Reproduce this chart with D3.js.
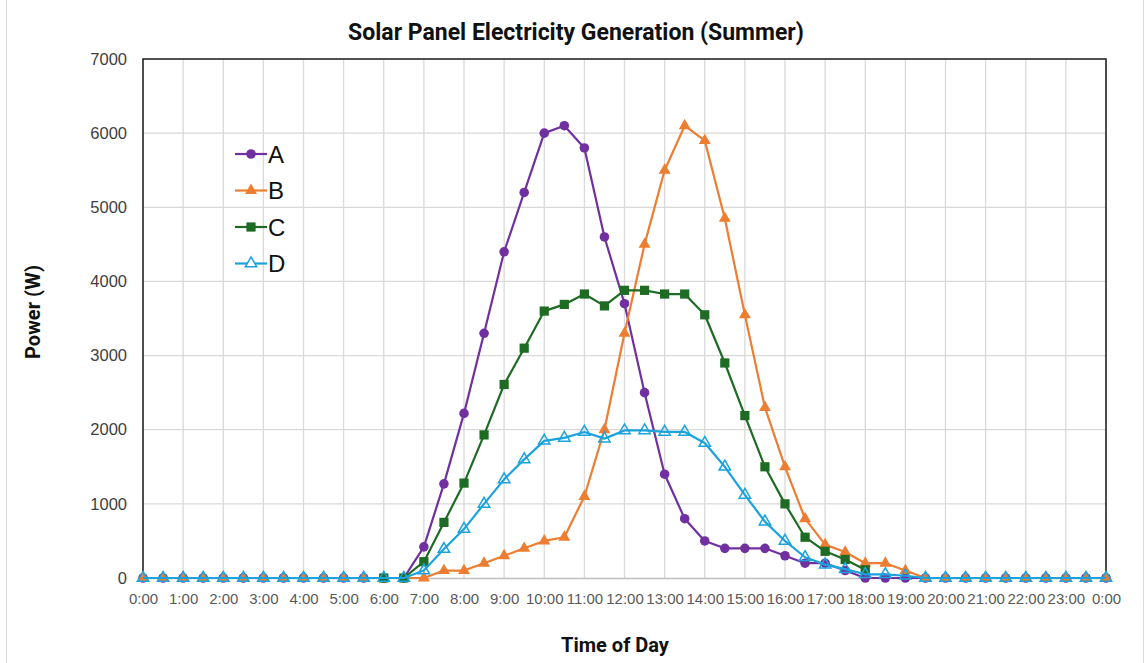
<!DOCTYPE html>
<html>
<head>
<meta charset="utf-8">
<script src="https://cdn.jsdelivr.net/npm/d3@7"></script>
<style>
  html, body { margin: 0; padding: 0; background: #fff; }
  svg { display: block; }
</style>
</head>
<body>
<svg id="chart" width="1145" height="663"></svg>
<script>
// ---- data ----
const times = [];
for (let i = 0; i <= 48; i++) {
  const h = Math.floor(i / 2) % 24;
  times.push(h + ":" + (i % 2 ? "30" : "00") + (i === 48 ? " " : ""));
}
const seriesNames = ["A", "B", "C", "D"];
const valuesA = [0,0,0,0,0,0,0,0,0,0,0,0,0,0,420,1270,2220,3300,4400,5200,6000,6100,5800,4600,3700,2500,1400,800,500,400,400,400,300,200,200,100,0,0,0,0,0,0,0,0,0,0,0,0,0];
const valuesB = [0,0,0,0,0,0,0,0,0,0,0,0,0,0,0,100,100,200,300,400,500,550,1100,2000,3300,4500,5500,6100,5900,4850,3550,2300,1500,800,450,350,200,200,100,0,0,0,0,0,0,0,0,0,0];
const valuesC = [null,null,null,null,null,null,null,null,null,null,null,null,0,0,220,750,1280,1930,2610,3100,3600,3690,3830,3670,3880,3880,3830,3830,3550,2900,2190,1500,1000,550,360,250,110,null,null,null,null,null,null,null,null,null,null,null,null];
const valuesD = [0,0,0,0,0,0,0,0,0,0,0,0,0,0,100,390,660,1000,1330,1600,1850,1890,1970,1880,1990,1990,1970,1970,1820,1500,1120,760,500,280,180,120,50,50,30,0,0,0,0,0,0,0,0,0,0];
const yTicks = [0,1000,2000,3000,4000,5000,6000,7000];
const hourLabels = times.filter((t, i) => i % 2 === 0);

const colors = { A: "#7030A0", B: "#ED7D31", C: "#1E6B24", D: "#1AA3DC" };
const symbols = { A: d3.symbolCircle, B: d3.symbolTriangle, C: d3.symbolSquare, D: d3.symbolTriangle };
const symSize = { A: 72, B: 62, C: 85, D: 56 };
const dataMap = { A: valuesA, B: valuesB, C: valuesC, D: valuesD };

// ---- layout ----
const svg = d3.select("#chart");
const L = 143, R = 1106, T = 59, B = 578;

const x = d3.scalePoint().domain(times).range([L, R]);
const y = d3.scaleLinear().domain([0, 7000]).range([B, T]);

// outer chart border
svg.append("rect").attr("x", 6.5).attr("y", -1).attr("width", 1137).attr("height", 666)
  .attr("fill", "#fff").attr("stroke", "#d9d9d9");

// gridlines
const grid = svg.append("g");
grid.selectAll("line.h").data(yTicks.filter(v => v > 0)).join("line")
  .attr("x1", L).attr("x2", R).attr("y1", d => y(d)).attr("y2", d => y(d))
  .attr("stroke", "#d9d9d9").attr("stroke-width", 1.3);
grid.selectAll("line.v").data(hourLabels.slice(1, -1)).join("line")
  .attr("x1", d => x(d)).attr("x2", d => x(d)).attr("y1", T).attr("y2", B)
  .attr("stroke", "#d9d9d9").attr("stroke-width", 1.3);

// bottom axis (gray)
const xAxis = d3.axisBottom(x).tickValues(hourLabels).tickSize(0).tickPadding(15);
const gx = svg.append("g").attr("transform", `translate(0,${B})`).call(xAxis);
gx.select(".domain").attr("stroke", "#bfbfbf").attr("stroke-width", 1.5);
gx.selectAll("text").attr("font-family", "Liberation Sans, Arial, sans-serif")
  .attr("font-size", 15).attr("fill", "#595959");

// left axis
const yAxis = d3.axisLeft(y).tickValues(yTicks).tickFormat(d3.format("d")).tickSize(0).tickPadding(16);
const gy = svg.append("g").attr("transform", `translate(${L},0)`).call(yAxis);
gy.select(".domain").remove();
gy.selectAll("text").attr("font-family", "Liberation Sans, Arial, sans-serif")
  .attr("font-size", 16.5).attr("fill", "#404040");

// black frame (top, left, right)
svg.append("path")
  .attr("d", `M${L},${B}V${T}H${R}V${B}`)
  .attr("fill", "none").attr("stroke", "#222").attr("stroke-width", 1.6);

// series
const line = d3.line()
  .defined(d => d.v !== null)
  .x(d => x(d.t)).y(d => y(d.v));

seriesNames.forEach(name => {
  const pts = times.map((t, i) => ({ t, v: dataMap[name][i] }));
  const g = svg.append("g");
  g.append("path").datum(pts).attr("d", line)
    .attr("fill", "none").attr("stroke", colors[name]).attr("stroke-width", 2.2)
    .attr("stroke-linejoin", "round");
  g.selectAll("path.m").data(pts.filter(d => d.v !== null)).join("path")
    .attr("class", "m")
    .attr("transform", d => `translate(${x(d.t)},${y(d.v)})`)
    .attr("d", d3.symbol().type(symbols[name]).size(symSize[name]))
    .attr("fill", name === "D" ? "none" : colors[name])
    .attr("stroke", colors[name]).attr("stroke-width", name === "D" ? 1.5 : 0);
});

// legend
const leg = svg.append("g");
seriesNames.forEach((name, i) => {
  const cy = 154 + i * 36.5;
  leg.append("line").attr("x1", 235).attr("x2", 267).attr("y1", cy).attr("y2", cy)
    .attr("stroke", colors[name]).attr("stroke-width", 2.2);
  leg.append("path").attr("transform", `translate(251,${cy})`)
    .attr("d", d3.symbol().type(symbols[name]).size(symSize[name]))
    .attr("fill", name === "D" ? "#fff" : colors[name])
    .attr("stroke", colors[name]).attr("stroke-width", name === "D" ? 1.5 : 0);
  leg.append("text").attr("x", 268).attr("y", cy + 8.5)
    .attr("font-family", "Liberation Sans, Arial, sans-serif").attr("font-size", 24)
    .attr("fill", "#111").text(name);
});

// titles
svg.append("text").attr("x", 576).attr("y", 40).attr("text-anchor", "middle")
  .attr("font-family", "Roboto, Inter, sans-serif").attr("font-weight", "bold")
  .attr("font-size", 23).attr("fill", "#111")
  .text("Solar Panel Electricity Generation (Summer)");
svg.append("text").attr("x", 615).attr("y", 652).attr("text-anchor", "middle")
  .attr("font-family", "Roboto, Inter, sans-serif").attr("font-weight", "bold")
  .attr("font-size", 20).attr("fill", "#111").text("Time of Day");
svg.append("text").attr("transform", "translate(40,312) rotate(-90)").attr("text-anchor", "middle")
  .attr("font-family", "Roboto, Inter, sans-serif").attr("font-weight", "bold")
  .attr("font-size", 20).attr("fill", "#111").text("Power (W)");
</script>
</body>
</html>
